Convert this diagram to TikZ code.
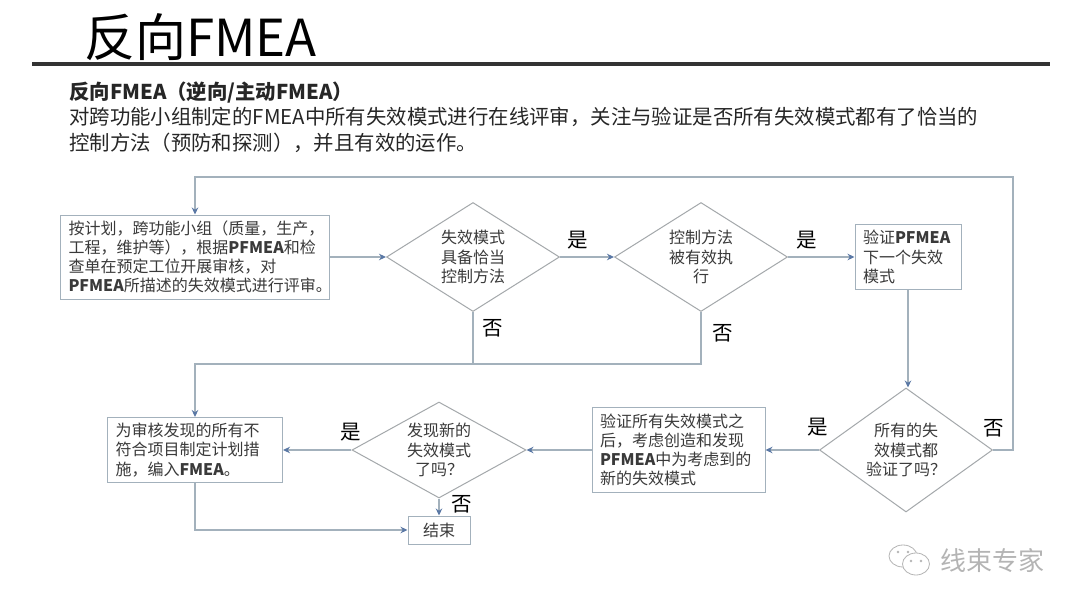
\documentclass[tikz,border=0pt]{standalone}
\usepackage{fontspec}
\setmainfont{Noto Sans CJK SC}
\usetikzlibrary{arrows.meta,shapes.geometric}
\definecolor{linegray}{HTML}{A3B1BC}
\definecolor{diagray}{HTML}{A4A8AB}
\definecolor{tipblue}{HTML}{5A78A5}
\definecolor{inkgray}{HTML}{3A3A3A}
\definecolor{markgray}{HTML}{B4B4B4}
\newcommand{\bfm}[1]{\textbf{#1}}
\tikzset{
  flowbox/.style 2 args={draw=linegray,line width=1pt,text=inkgray,text width=#1,minimum height=#2,inner xsep=8pt,inner ysep=0pt,align=left,font=\fontsize{16}{19.2}\selectfont},
  flowdia/.style 2 args={draw=diagray,line width=1pt,diamond,text=inkgray,minimum width=#1,minimum height=#2,inner sep=-14pt,align=center,font=\fontsize{16}{19.2}\selectfont},
  yn/.style={font=\fontsize{20.5}{20.5}\selectfont,text=black,inner sep=0pt},
  conn/.style={draw=linegray,line width=1.1pt},
  arr/.style={conn,-{Stealth[length=7pt,width=6.5pt,color=tipblue]}}
}
\begin{document}
\begin{tikzpicture}[x=1pt,y=-1pt]
\useasboundingbox[fill=white] (0,0) rectangle (1080,608);
% heading
\node[anchor=base west,inner sep=0pt,font=\fontsize{51}{51}\selectfont,text=black] (title) at (84,56) {反向FMEA};
\coordinate (ruleL) at (32,64);\coordinate (ruleR) at (1050,64);
\draw[line width=3.6pt,draw=black!80] (ruleL)--(ruleR);
\node[anchor=base west,inner sep=0pt,font=\fontsize{20.4}{25.5}\selectfont,text=black!85,align=left] (intro) at (69,150) {\bfm{反向FMEA（逆向/主动FMEA）}\\对跨功能小组制定的FMEA中所有失效模式进行在线评审，关注与验证是否所有失效模式都有了恰当的\\控制方法（预防和探测），并且有效的运作。};
% flow
\node[flowbox={253pt}{84pt}] (plan) at (195,257) {按计划，跨功能小组（质量，生产，\\工程，维护等），根据\bfm{PFMEA}和检\\查单在预定工位开展审核，对\\\bfm{PFMEA}所描述的失效模式进行评审。};
\node[flowdia={173pt}{109pt}] (ctrl) at (473,257) {失效模式\\具备恰当\\控制方法};
\node[flowdia={173pt}{109pt}] (exec) at (701,257) {控制方法\\被有效执\\行};
\node[flowbox={90pt}{65pt}] (next) at (908,257) {验证\bfm{PFMEA}\\下一个失效\\模式};
\node[flowdia={173pt}{124pt}] (allm) at (906,450) {所有的失\\效模式都\\验证了吗？};
\node[flowbox={157pt}{85pt}] (later) at (678.5,450) {验证所有失效模式之\\后，考虑创造和发现\\\bfm{PFMEA}中为考虑到的\\新的失效模式};
\node[flowdia={174pt}{96pt}] (newm) at (439,450) {发现新的\\失效模式\\了吗？};
\node[flowbox={159pt}{65pt}] (fix) at (195,450) {为审核发现的所有不\\符合项目制定计划措\\施，编入\bfm{FMEA}。};
\node[draw=linegray,line width=1pt,text=inkgray,minimum width=62pt,minimum height=28pt,inner sep=0pt,font=\fontsize{16}{19.2}\selectfont] (fin) at (439,530) {结束};
\coordinate (loop) at (1013,177);
\coordinate (mrg) at (473,364);
\draw[arr] (plan)--(ctrl);
\draw[arr] (ctrl)--(exec);
\draw[arr] (exec)--(next);
\draw[arr] (next.south)--(next.south|-allm.north);
\draw[arr] (allm)--(later);
\draw[arr] (later)--(newm);
\draw[arr] (newm)--(fix);
\draw[arr] (newm)--(fin);
\draw[arr] (fix.south) |- (fin.west);
\draw[arr] (allm.east) -| (loop) -| (plan.north);
\draw[conn] (ctrl.south)--(mrg);
\draw[arr] (exec.south) |- (mrg) -| (fix.north);
\foreach \i/\x/\y/\t in {a/578/240/是,b/807/240/是,c/493/328/否,d/723/333/否,e/351/432/是,f/462/504/否,g/818/427/是,h/994/428/否}{
  \node[yn] (yn\i) at (\x,\y) {\t};
}
% watermark
\draw[markgray,line width=.8pt,fill=white] (903,556) ellipse (14pt and 11pt);
\draw[markgray,line width=.8pt,fill=white] (916,564) ellipse (13.5pt and 11pt);
\foreach \x/\y in {898/552,908/552,911/561,921/561}{\fill[markgray] (\x,\y) circle (1.3pt);}
\node[inner sep=0pt,font=\fontsize{26}{26}\selectfont,text=markgray] (mark) at (992,561) {线束专家};
\end{tikzpicture}
\end{document}
